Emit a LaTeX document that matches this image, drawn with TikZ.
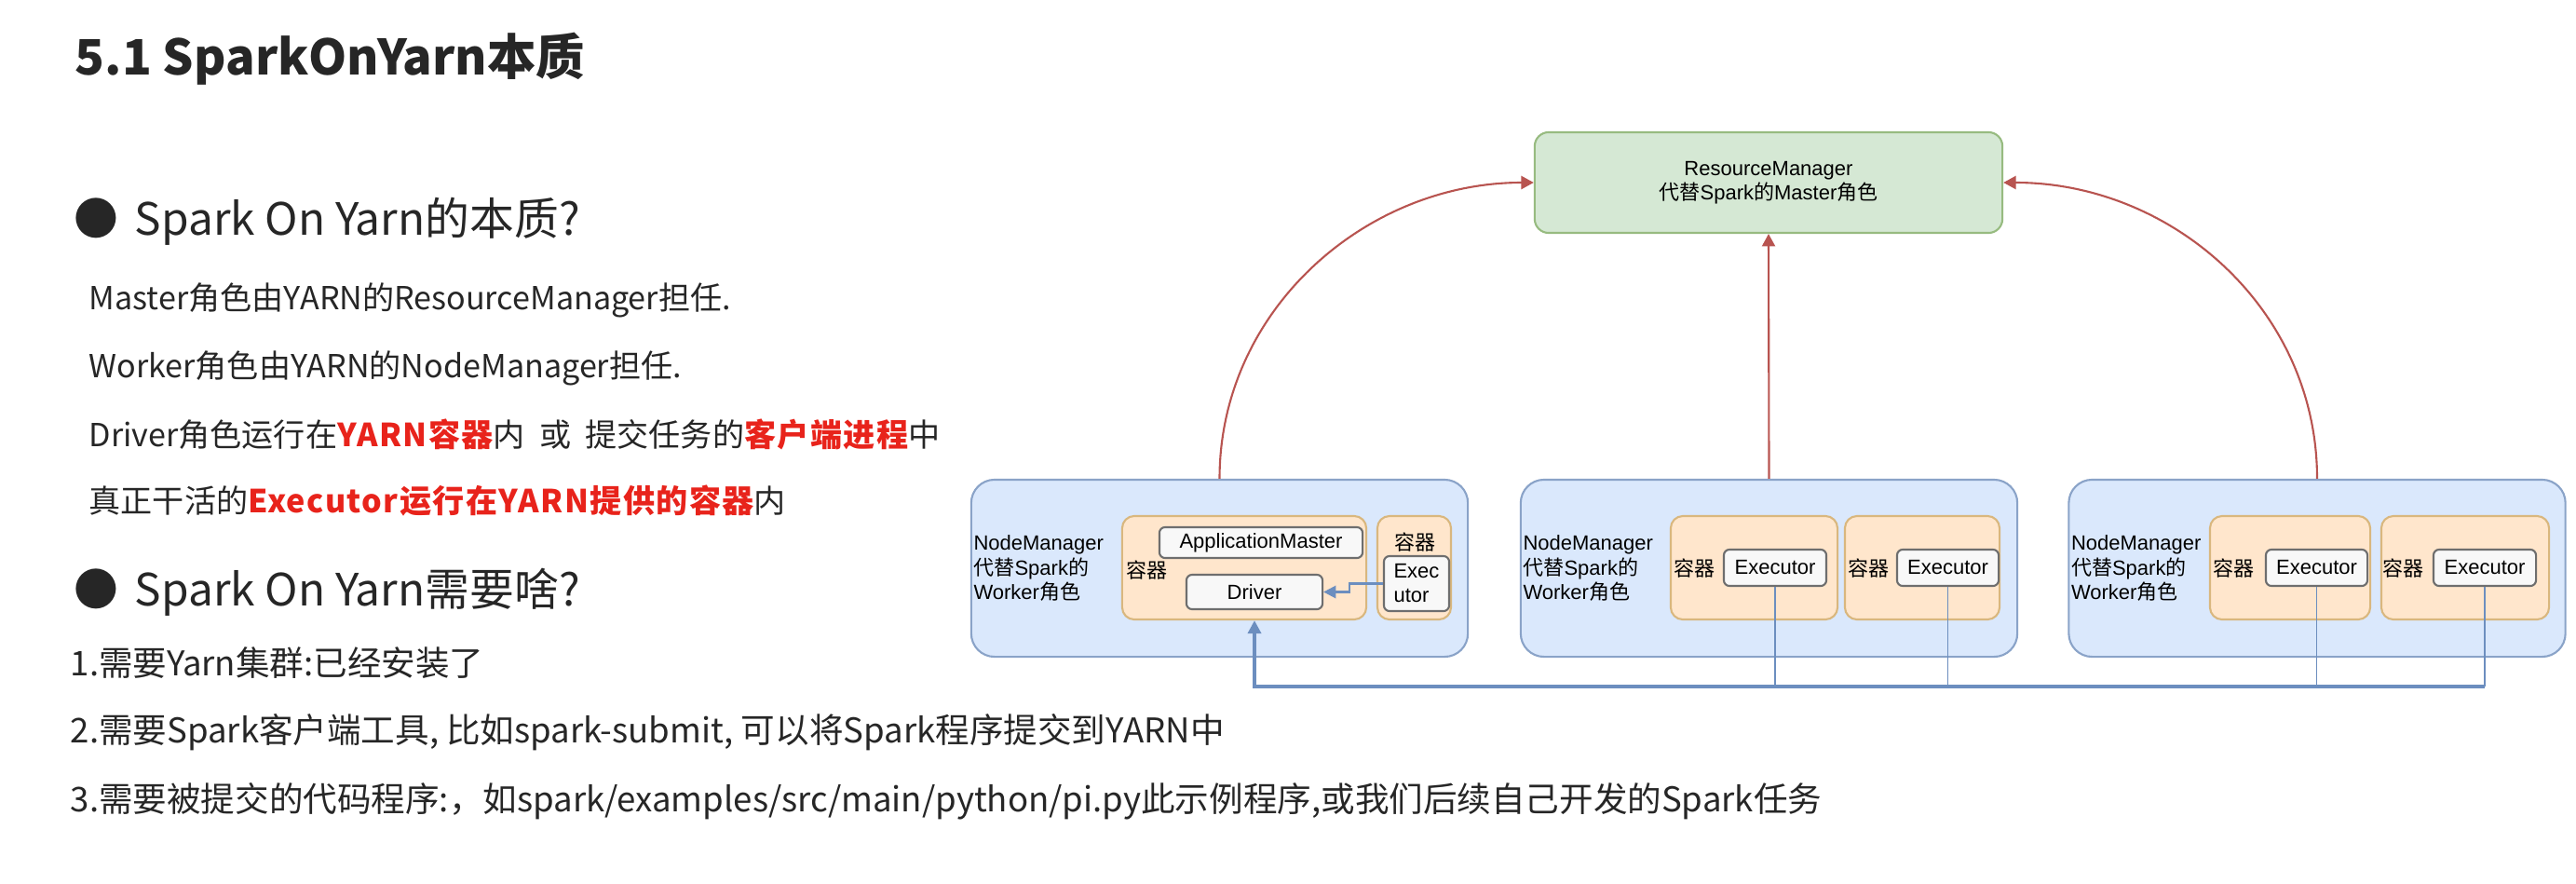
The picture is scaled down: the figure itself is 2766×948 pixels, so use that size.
\documentclass[tikz,border=0pt]{standalone}
\usepackage{fontspec}
\setmainfont{Liberation Sans}
\newfontfamily\cjk{Noto Sans CJK SC}
\usetikzlibrary{arrows.meta}

\definecolor{rmfill}{HTML}{D5E8D4}
\definecolor{rmline}{HTML}{97BB80}
\definecolor{nmfill}{HTML}{DAE8FC}
\definecolor{nmline}{HTML}{8AA3C8}
\definecolor{ctrfill}{HTML}{FFE6CC}
\definecolor{ctrline}{HTML}{D9B77E}
\definecolor{procfill}{HTML}{F8F8F8}
\definecolor{procline}{HTML}{6E6E6E}
\definecolor{arrred}{HTML}{B85450}
\definecolor{arrblue}{HTML}{6C8EBF}
\definecolor{hlred}{HTML}{E8231B}
\definecolor{ink}{HTML}{262626}

\newcommand\zh[1]{{\cjk #1}}
\newcommand\hl[1]{{\bfseries\color{hlred}\addfontfeature{LetterSpace=4}#1}}
\newcommand\diag{\fontsize{6.26}{7.4}\selectfont}

\begin{document}
\begin{tikzpicture}[x=0.01cm, y=-0.01cm,
    txt/.style={anchor=base west, inner sep=0pt, text=ink, font=\cjk\fontsize{9.7}{12}\selectfont},
    num/.style={txt, font=\cjk\fontsize{10.4}{12}\selectfont},
    head/.style={txt, font=\cjk\fontsize{13.6}{16}\selectfont},
    title/.style={txt, font=\cjk\bfseries\fontsize{14.9}{18}\selectfont},
    rmbox/.style={draw=rmline, fill=rmfill, line width=0.6pt, rounded corners=0.15cm, minimum width=5.02cm, minimum height=1.08cm, align=center, font=\diag},
    nmbox/.style={draw=nmline, fill=nmfill, line width=0.6pt, rounded corners=0.25cm, minimum width=5.33cm, minimum height=1.9cm},
    ctr/.style={draw=ctrline, fill=ctrfill, line width=0.6pt, rounded corners=0.13cm, minimum height=1.11cm},
    proc/.style={draw=procline, fill=procfill, line width=0.6pt, rounded corners=0.06cm, inner sep=0pt, align=left, font=\diag},
    lbl/.style={inner sep=0pt, align=left, font=\diag},
    tohost/.style={draw=arrred, line width=0.6pt, -{Triangle[length=3.8pt, width=4pt]}},
    bus/.style={draw=arrblue, line width=1pt},
    feed/.style={draw=arrblue, line width=0.5pt}
  ]
  \useasboundingbox (0,0) rectangle (2766,948);

  % left side text
  \node[title] (t) at (80,80) {5.1 SparkOnYarn本质};

  \node[head] (b1) at (79,252) {●};
  \node[head] (h1) at (144,252) {Spark On Yarn的本质?};
  \node[txt] (l1) at (95,332) {Master角色由YARN的ResourceManager担任.};
  \node[txt] (l2) at (95,405) {Worker角色由YARN的NodeManager担任.};
  \node[txt] (l3) at (95,479) {Driver角色运行在\hl{YARN容器}内\ \ 或\ \ 提交任务的\hl{客户端进程}中};
  \node[txt] (l4) at (95,550) {真正干活的\hl{Executor运行在YARN提供的容器}内};

  \node[head] (b2) at (79,650) {●};
  \node[head] (h2) at (144,650) {Spark On Yarn需要啥?};
  \node[num] (n1) at (75,725) {1.需要Yarn集群:已经安装了};
  \node[num] (n2) at (75,797) {2.需要Spark客户端工具, 比如spark-submit, 可以将Spark程序提交到YARN中};
  \node[num] (n3) at (75,871) {3.需要被提交的代码程序:，如spark/examples/src/main/python/pi.py此示例程序,或我们后续自己开发的Spark任务};

  % yarn cluster
  \node[rmbox] (rm) at (1899,196) {ResourceManager\\\zh{代替}Spark\zh{的}Master\zh{角色}};

  \node[nmbox] (nm1) at (1309.5,610) {};
  \node[nmbox] (nm2) at (1899.5,610) {};
  \node[nmbox] (nm3) at (2488,610) {};
  \foreach \n in {1,2,3}
    \node[lbl, anchor=west] (w\n) at ([xshift=0.03cm]nm\n.west) {NodeManager\\\zh{代替}Spark\zh{的}\\Worker\zh{角色}};

  % node 1: driver container + executor
  \node[ctr, minimum width=2.62cm] (c1) at (1336,609.5) {};
  \node[proc, minimum width=2.18cm, minimum height=0.33cm] (am) at (1354,582.5) {ApplicationMaster};
  \node[lbl] (k1) at (1231,612) {\zh{容器}};
  \node[proc, minimum width=1.46cm, minimum height=0.37cm] (drv) at (1347,635.5) {Driver};
  \node[ctr, minimum width=0.79cm] (c2) at (1518.5,609.5) {};
  \node[lbl] (k2) at (1519,582) {\zh{容器}};
  \node[proc, minimum width=0.70cm, minimum height=0.59cm] (e1) at (1521,626.5) {Exec\\utor};

  % node 2
  \node[ctr, minimum width=1.79cm] (c3) at (1883.5,609.5) {};
  \node[lbl] (k3) at (1819,610) {\zh{容器}};
  \node[proc, minimum width=1.10cm, minimum height=0.39cm] (e2) at (1906,609.5) {Executor};
  \node[ctr, minimum width=1.66cm] (c4) at (2064,609.5) {};
  \node[lbl] (k4) at (2006,610) {\zh{容器}};
  \node[proc, minimum width=1.09cm, minimum height=0.39cm] (e3) at (2091.5,609.5) {Executor};

  % node 3
  \node[ctr, minimum width=1.72cm] (c5) at (2459,609.5) {};
  \node[lbl] (k5) at (2398,610) {\zh{容器}};
  \node[proc, minimum width=1.09cm, minimum height=0.39cm] (e4) at (2487.5,609.5) {Executor};
  \node[ctr, minimum width=1.80cm] (c6) at (2647,609.5) {};
  \node[lbl] (k6) at (2580,610) {\zh{容器}};
  \node[proc, minimum width=1.10cm, minimum height=0.39cm] (e5) at (2668,609.5) {Executor};

  % registration with the resource manager
  \draw[tohost] (nm1.north) to[out=90, in=180] (rm.west);
  \draw[tohost] (nm2.north) -- (rm.south);
  \draw[tohost] (nm3.north) to[out=90, in=0] (rm.east);

  % executors report back to the driver
  \coordinate (line) at (1350,737);
  \draw[feed] (e2.south) -- (e2.south |- line);
  \draw[feed] (e3.south) -- (e3.south |- line);
  \draw[feed] (e4.south) -- (e4.south |- line);
  \draw[feed] (e5.south) -- (e5.south |- line);
  \draw[bus, -{Triangle[length=4pt, width=4pt]}] (e5.south |- line) -- (line -| drv.south) -- (c1.south -| drv.south);
  \draw[feed, line width=0.7pt, -{Triangle[length=3.8pt, width=3.8pt]}] (e1.west) -- ++(-36,0) |- (drv.east);
\end{tikzpicture}
\end{document}
